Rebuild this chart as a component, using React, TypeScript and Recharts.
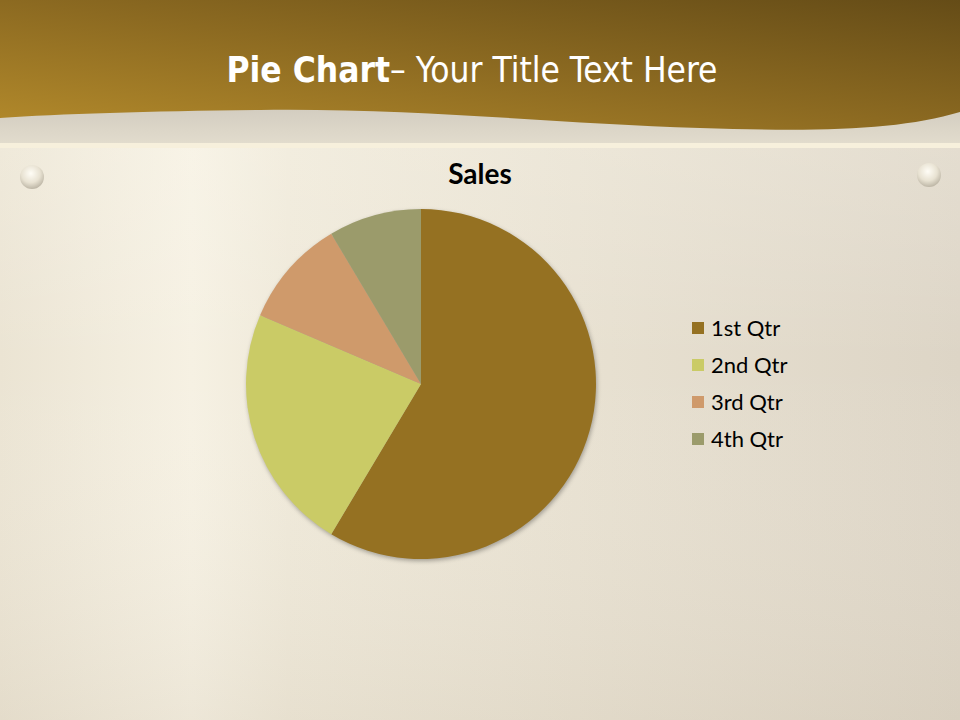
import React from "react";
import { PieChart, Pie, Cell } from "recharts";

const quarters = ["1st Qtr", "2nd Qtr", "3rd Qtr", "4th Qtr"];
const sales = [8.2, 3.2, 1.4, 1.2];
const sliceColors = ["#957122", "#cacb66", "#cf9a6b", "#9b9b6b"];

const data = quarters.map((name, i) => ({ name, value: sales[i] }));

const W = 960;
const H = 720;

function Backdrop() {
  return (
    <svg width={W} height={H} style={{ position: "absolute", left: 0, top: 0 }}>
      <defs>
        <linearGradient id="body" x1="0" y1="0" x2="1" y2="0">
          <stop offset="0" stopColor="#ebe4d3" />
          <stop offset="0.2" stopColor="#f6f1e3" />
          <stop offset="0.3" stopColor="#efe9d9" />
          <stop offset="0.6" stopColor="#e8e1d1" />
          <stop offset="1" stopColor="#ddd5c6" />
        </linearGradient>
        <linearGradient id="bodyV" x1="0" y1="0" x2="0" y2="1">
          <stop offset="0" stopColor="#fffbee" stopOpacity="0.35" />
          <stop offset="0.5" stopColor="#ffffff" stopOpacity="0" />
          <stop offset="1" stopColor="#c8bca8" stopOpacity="0.2" />
        </linearGradient>
        <linearGradient id="band" x1="0" y1="0" x2="0" y2="1">
          <stop offset="0" stopColor="#cfc9bd" />
          <stop offset="1" stopColor="#e2dccd" />
        </linearGradient>
        <linearGradient id="head" x1="0" y1="1" x2="1" y2="0">
          <stop offset="0" stopColor="#b38a2b" />
          <stop offset="0.5" stopColor="#8c6a21" />
          <stop offset="1" stopColor="#654c17" />
        </linearGradient>
        <radialGradient id="pearl" cx="0.45" cy="0.35" r="0.65">
          <stop offset="0" stopColor="#fffdf6" />
          <stop offset="0.6" stopColor="#e8e2d2" />
          <stop offset="1" stopColor="#bdb6a6" />
        </radialGradient>
      </defs>
      <rect x={0} y={0} width={W} height={H} fill="url(#body)" />
      <rect x={0} y={0} width={W} height={H} fill="url(#bodyV)" />
      <rect x={0} y={100} width={W} height={44} fill="url(#band)" />
      <rect x={0} y={143} width={W} height={5} fill="#f7f0dc" />
      <path
        d="M0,0 H960 V112 C900,130 820,132 700,128 C560,124 420,108 260,110 C150,111 60,114 0,118 Z"
        fill="url(#head)"
      />
      <circle cx={32} cy={177} r={12} fill="url(#pearl)" />
      <circle cx={929} cy={175} r={12} fill="url(#pearl)" />
    </svg>
  );
}

function LegendList() {
  return (
    <div
      style={{
        position: "absolute",
        left: 692,
        top: 309,
        fontFamily: "Lato, sans-serif",
      }}
    >
      {quarters.map((q, i) => (
        <div
          key={q}
          style={{ display: "flex", alignItems: "center", height: 37, fontSize: 22, color: "#000" }}
        >
          <span
            style={{ width: 12, height: 12, background: sliceColors[i], marginRight: 7, display: "inline-block" }}
          />
          {q}
        </div>
      ))}
    </div>
  );
}

export default function App() {
  return (
    <div style={{ position: "absolute", left: 0, top: 0, width: W, height: H, overflow: "hidden" }}>
      <Backdrop />
      <div
        style={{
          position: "absolute",
          left: -8,
          top: 50,
          width: W,
          textAlign: "center",
          color: "#fff",
          fontSize: 35,
          fontFamily: "'DejaVu Sans Condensed', 'DejaVu Sans', sans-serif",
          fontStretch: "condensed",
        }}
      >
        <b>Pie Chart</b>– Your Title Text Here
      </div>
      <div
        style={{
          position: "absolute",
          left: 382,
          top: 156,
          width: 196,
          textAlign: "center",
          fontSize: 28,
          fontWeight: "bold",
          fontFamily: "Lato, sans-serif",
          color: "#000",
        }}
      >
        Sales
      </div>
      <div style={{ position: "absolute", left: 0, top: 0, filter: "drop-shadow(1px 2px 2px rgba(0,0,0,0.3))" }}>
        <PieChart width={W} height={H} margin={{ top: 0, right: 0, bottom: 0, left: 0 }}>
          <Pie
            data={data}
            dataKey="value"
            nameKey="name"
            cx={421}
            cy={384}
            outerRadius={175}
            startAngle={90}
            endAngle={-270}
            stroke="none"
            isAnimationActive={false}
          >
            {data.map((d, i) => (
              <Cell key={d.name} fill={sliceColors[i]} />
            ))}
          </Pie>
        </PieChart>
      </div>
      <LegendList />
    </div>
  );
}
